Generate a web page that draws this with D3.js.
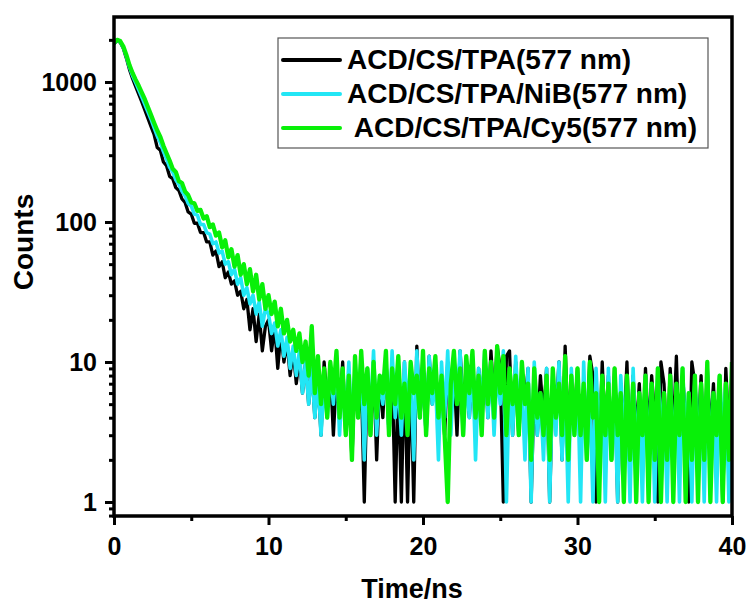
<!DOCTYPE html>
<html>
<head>
<meta charset="utf-8">
<script src="https://cdn.jsdelivr.net/npm/d3@7/dist/d3.min.js"></script>
<style>
  body { margin: 0; background: #fff; }
  text { font-family: "Liberation Sans", Arial, sans-serif; font-weight: bold; fill: #000; }
</style>
</head>
<body>
<script>
// time channels (ns)
var time = [
  0,0.2,0.4,0.6,0.8,1,1.2,1.4,1.6,1.8,
  2,2.2,2.4,2.6,2.8,3,3.2,3.4,3.6,3.8,
  4,4.2,4.4,4.6,4.8,5,5.2,5.4,5.6,5.8,
  6,6.2,6.4,6.6,6.8,7,7.2,7.4,7.6,7.8,
  8,8.2,8.4,8.6,8.8,9,9.2,9.4,9.6,9.8,
  10,10.2,10.4,10.6,10.8,11,11.2,11.4,11.6,11.8,
  12,12.2,12.4,12.6,12.8,13,13.2,13.4,13.6,13.8,
  14,14.2,14.4,14.6,14.8,15,15.2,15.4,15.6,15.8,
  16,16.2,16.4,16.6,16.8,17,17.2,17.4,17.6,17.8,
  18,18.2,18.4,18.6,18.8,19,19.2,19.4,19.6,19.8,
  20,20.2,20.4,20.6,20.8,21,21.2,21.4,21.6,21.8,
  22,22.2,22.4,22.6,22.8,23,23.2,23.4,23.6,23.8,
  24,24.2,24.4,24.6,24.8,25,25.2,25.4,25.6,25.8,
  26,26.2,26.4,26.6,26.8,27,27.2,27.4,27.6,27.8,
  28,28.2,28.4,28.6,28.8,29,29.2,29.4,29.6,29.8,
  30,30.2,30.4,30.6,30.8,31,31.2,31.4,31.6,31.8,
  32,32.2,32.4,32.6,32.8,33,33.2,33.4,33.6,33.8,
  34,34.2,34.4,34.6,34.8,35,35.2,35.4,35.6,35.8,
  36,36.2,36.4,36.6,36.8,37,37.2,37.4,37.6,37.8,
  38,38.2,38.4,38.6,38.8,39,39.2,39.4,39.6,39.8,
  40
];

var seriesNames = ["ACD/CS/TPA(577 nm)", "ACD/CS/TPA/NiB(577 nm)", " ACD/CS/TPA/Cy5(577 nm)"];
var seriesColors = ["#000000", "#22e6f5", "#08f008"];

var countsTPA = [
  1870,1980,1920,1740,1480,1230,1060,930,820,720,
  630,550,480,420,340,325,268,252,212,204,
  176,168,146,138,118,114,98,98,84,84,
  72,72,58,62,48,52,40,44,36,38,
  30,32,24,28,17,24,14,22,12,18,
  20,12,18,9,16,10,14,8,12,7,
  11,6,10,5,9,4,8,3,10,5,
  9,3,8,4,10,3,7,2,9,4,
  8,1,9,3,10,2,8,4,11,3,
  9,1,8,1,10,1,9,1,13,4,
  8,3,11,5,9,4,7,3,10,5,
  9,3,12,5,8,4,10,3,9,5,
  11,4,12,5,13,9,1,11,12,3,
  10,3,8,5,9,1,7,3,8,4,
  9,1,7,4,10,2,13,3,8,4,
  9,2,7,3,11,8,1,2,10,3,
  8,2,9,1,7,3,10,2,8,3,
  7,2,9,3,8,4,1,10,7,2,
  9,3,11,2,8,4,1,10,7,3,
  8,2,9,3,7,2,8,1,9,3,
  8
];

var countsNiB = [
  1880,1990,1940,1770,1520,1280,1110,990,880,780,
  690,610,540,470,410,370,318,282,246,228,
  200,186,166,154,136,130,114,112,96,96,
  84,82,70,72,60,62,50,52,42,46,
  36,40,30,34,26,30,22,27,18,24,
  22,16,19,13,17,11,15,9,13,8,
  12,6,10,5,9,4,8,3,7,4,
  9,5,11,3,8,4,10,3,9,5,
  11,2,9,4,12,3,8,5,10,3,
  12,4,7,3,10,5,9,2,12,4,
  9,3,11,5,8,2,10,4,12,3,
  9,5,12,3,8,4,11,2,9,5,
  12,4,10,3,9,5,12,1,8,3,
  11,4,7,2,9,1,10,3,6,2,
  9,1,8,3,10,2,7,1,9,3,
  8,1,10,2,6,1,9,3,7,1,
  9,2,6,1,8,3,7,1,9,2,
  6,1,8,2,7,1,9,3,6,1,
  8,2,7,1,9,3,6,1,8,2,
  7,1,9,2,6,1,8,3,7,1,
  6
];

var countsCy5 = [
  1900,2000,1960,1800,1560,1320,1160,1040,940,840,
  750,660,580,510,450,405,350,310,275,240,
  228,196,190,165,156,138,136,120,122,106,
  110,92,96,80,84,66,74,56,64,48,
  58,42,50,36,46,32,42,28,36,24,
  30,22,27,18,24,16,20,14,17,12,
  16,10,14,8,18,6,11,5,9,4,
  10,6,12,4,9,3,8,2,11,4,
  12,5,9,3,10,4,8,6,12,3,
  9,5,11,4,7,3,10,6,8,4,
  12,3,9,6,11,4,8,3,1,7,
  12,5,9,3,11,6,12,4,8,3,
  12,5,10,4,13,6,11,3,9,5,
  8,3,10,5,7,2,9,4,6,3,
  8,2,9,4,7,3,11,2,8,3,
  9,3,7,2,10,4,6,1,8,3,
  7,2,9,3,6,1,8,2,7,1,
  6,3,8,1,7,2,9,1,6,2,
  8,1,7,3,9,1,6,2,8,1,
  7,2,10,1,6,3,8,1,7,2,
  10
];

var xTicks = [0, 10, 20, 30, 40];
var xMinorTicks = [5, 15, 25, 35];
var yTicks = [1, 10, 100, 1000];
var yMinorTicks = [0.8, 0.9, 2, 3, 4, 5, 6, 7, 8, 9, 20, 30, 40, 50, 60, 70, 80, 90,
                   200, 300, 400, 500, 600, 700, 800, 900, 2000];

var width = 751, height = 603;
var plotLeft = 114, plotRight = 732, plotTop = 17, plotBottom = 516;

var svg = d3.select("body").append("svg")
    .attr("width", width)
    .attr("height", height);

var x = d3.scaleLinear().domain([0, 40]).range([plotLeft, plotRight]);
var yRef = d3.scaleLog().domain([1, 1000]).range([502, 82]);
var y = d3.scaleLog().domain([yRef.invert(plotBottom), yRef.invert(plotTop)]).range([plotBottom, plotTop]);

svg.append("clipPath").attr("id", "plot")
  .append("rect")
    .attr("x", plotLeft).attr("y", plotTop)
    .attr("width", plotRight - plotLeft).attr("height", plotBottom - plotTop);

var line = d3.line()
    .x(function(d) { return x(d[0]); })
    .y(function(d) { return y(d[1]); });

var allCounts = [countsTPA, countsNiB, countsCy5];
var widths = [3.3, 3.6, 4.3];
var g = svg.append("g").attr("clip-path", "url(#plot)");
allCounts.forEach(function(c, i) {
  g.append("path")
    .attr("d", line(time.map(function(t, j) { return [t, c[j]]; })))
    .style("fill", "none")
    .style("stroke", seriesColors[i])
    .style("stroke-width", widths[i])
    .style("stroke-linejoin", "round");
});

// axes
var xAxis = svg.append("g").attr("transform", "translate(0," + plotBottom + ")")
    .call(d3.axisBottom(x).tickValues(xTicks).tickSize(9).tickFormat(d3.format("d")));
svg.append("g").attr("transform", "translate(0," + plotBottom + ")")
    .call(d3.axisBottom(x).tickValues(xMinorTicks).tickSize(5).tickFormat(""));

var yAxis = svg.append("g").attr("transform", "translate(" + plotLeft + ",0)")
    .call(d3.axisLeft(y).tickValues(yTicks).tickSize(9).tickFormat(d3.format("d")));
svg.append("g").attr("transform", "translate(" + plotLeft + ",0)")
    .call(d3.axisLeft(y).tickValues(yMinorTicks).tickSize(5).tickFormat(""));

svg.selectAll(".domain").remove();
svg.selectAll(".tick line").style("stroke", "#000").style("stroke-width", 3);
xAxis.selectAll("text").style("font-size", "25px").attr("dy", null).attr("y", 39);
yAxis.selectAll("text").style("font-size", "25px").attr("dy", "0.35em").attr("x", -17);

// frame
svg.append("rect")
    .attr("x", plotLeft).attr("y", plotTop)
    .attr("width", plotRight - plotLeft).attr("height", plotBottom - plotTop)
    .style("fill", "none")
    .style("stroke", "#000")
    .style("stroke-width", 3.5);

// titles
svg.append("text")
    .attr("x", 412).attr("y", 598)
    .attr("text-anchor", "middle")
    .style("font-size", "27px")
    .text("Time/ns");

svg.append("text")
    .attr("transform", "translate(33,242) rotate(-90)")
    .attr("text-anchor", "middle")
    .style("font-size", "28px")
    .text("Counts");

// legend
var legend = svg.append("g");
legend.append("rect")
    .attr("x", 278).attr("y", 38)
    .attr("width", 430).attr("height", 110)
    .style("fill", "#fff")
    .style("stroke", "#555")
    .style("stroke-width", 1.2);

seriesNames.forEach(function(name, i) {
  var cy = 60 + i * 34;
  legend.append("line")
    .attr("x1", 283).attr("x2", 340)
    .attr("y1", cy).attr("y2", cy)
    .style("stroke", seriesColors[i])
    .style("stroke-width", 4)
    .style("stroke-linecap", "round");
  legend.append("text")
    .attr("x", 347).attr("y", cy + 9)
    .style("white-space", "pre")
    .style("font-size", "28px")
    .text(name);
});
</script>
</body>
</html>
